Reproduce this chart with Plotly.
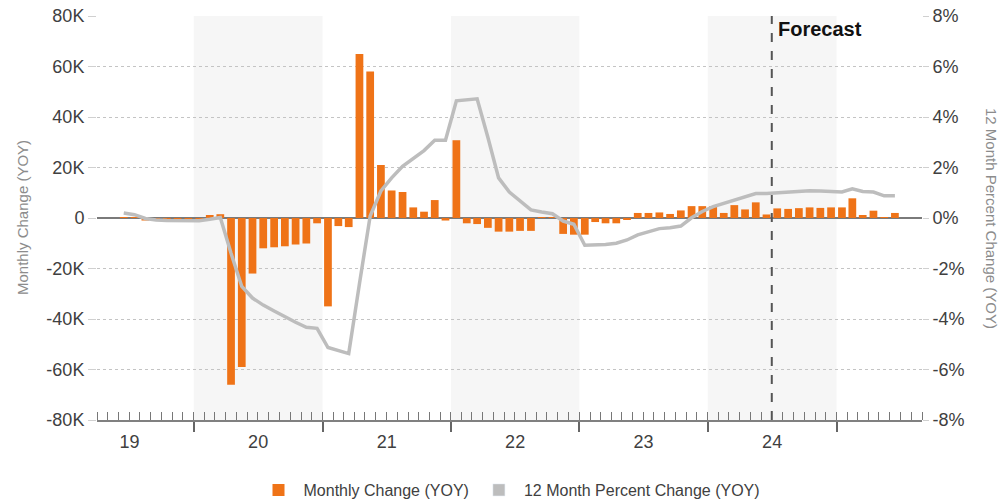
import pandas as pd
import plotly.graph_objects as go

# ---------------- data ----------------
months = pd.date_range("2019-06-01", "2025-06-01", freq="MS").strftime("%Y-%m-%d").tolist()

monthly_change = [
    # 2019 Jun-Dec
    200, 200, -1000, -300, -300, -300, -300,
    # 2020
    -300, 1200, 1500, -66000, -59000, -22000, -12000, -11600, -11200, -10500, -10100, -2100,
    # 2021
    -35000, -3200, -3600, 65000, 58000, 21000, 10900, 10300, 4200, 2500, 7100, -1000,
    # 2022
    30800, -2100, -2400, -3900, -5400, -5400, -5100, -5100, 300, 200, -6300, -6600,
    # 2023
    -6600, -1600, -2100, -2100, -400, 2000, 2000, 2200, 1600, 3000, 4700, 4700,
    # 2024
    4700, 2000, 5100, 3400, 6200, 1400, 3800, 3600, 3900, 4200, 4000, 4200,
    # 2025 Jan-Jun
    4200, 7800, 1200, 2900, 200, 2000,
]

pct_change = [
    # 2019 Jun-Dec
    0.20, 0.13, -0.02, -0.08, -0.10, -0.10, -0.11,
    # 2020
    -0.11, -0.05, 0.02, -1.40, -2.71, -3.17, -3.45, -3.68, -3.92, -4.13, -4.33, -4.37,
    # 2021
    -5.13, -5.25, -5.37, -2.60, 0.08, 1.07, 1.59, 2.05, 2.38, 2.67, 3.08, 3.08,
    # 2022
    4.64, 4.68, 4.72, 3.20, 1.59, 1.03, 0.67, 0.32, 0.24, 0.17, -0.12, -0.25,
    # 2023
    -1.08, -1.07, -1.05, -1.00, -0.87, -0.67, -0.54, -0.42, -0.39, -0.32, 0.01, 0.26,
    # 2024
    0.45, 0.57, 0.71, 0.84, 0.97, 0.97, 1.00, 1.03, 1.07, 1.08, 1.07, 1.05,
    # 2025 Jan-Jun
    1.03, 1.16, 1.05, 1.03, 0.88, 0.88,
]
pct_change = [v / 100 for v in pct_change]

left_tickvals = [80000, 60000, 40000, 20000, 0, -20000, -40000, -60000, -80000]
left_ticktext = ["80K", "60K", "40K", "20K", "0", "-20K", "-40K", "-60K", "-80K"]
right_tickvals = [0.08, 0.06, 0.04, 0.02, 0, -0.02, -0.04, -0.06, -0.08]
right_ticktext = ["8%", "6%", "4%", "2%", "0%", "-2%", "-4%", "-6%", "-8%"]

shaded_years = [2020, 2022, 2024]
forecast_start = "2024-07-01"
x_range = ["2019-04-01", "2025-09-01"]

bar_name = "Monthly Change (YOY)"
line_name = "12 Month Percent Change (YOY)"

# ---------------- styles ----------------
ORANGE = "#EF7317"
GREY_LINE = "#BDBDBD"
TEXT = "#404040"
FONT = "Liberation Sans Narrow, Arial Narrow, Liberation Sans, Arial, sans-serif"
DAY_MS = 86400000
W, H = 1003, 503
ML, MR, MT, MB = 97, 81, 16, 83

fig = go.Figure()

fig.add_trace(go.Bar(
    x=months, y=monthly_change, name=bar_name,
    xperiod="M1", xperiodalignment="middle",
    width=22 * DAY_MS,
    marker=dict(color=ORANGE, line=dict(width=0)),
    yaxis="y",
))

# legend proxy (square swatch) for the line series
fig.add_trace(go.Bar(
    x=[None], y=[None], name=line_name, legendgroup="pct",
    marker=dict(color=GREY_LINE), yaxis="y2",
))

fig.add_trace(go.Scatter(
    x=months, y=pct_change, name=line_name, legendgroup="pct", showlegend=False,
    xperiod="M1", xperiodalignment="middle",
    mode="lines", line=dict(color=GREY_LINE, width=3.5),
    yaxis="y2",
))

shapes = []
for yr in shaded_years:
    shapes.append(dict(
        type="rect", xref="x", yref="paper",
        x0=f"{yr}-01-01", x1=f"{yr + 1}-01-01", y0=0, y1=1,
        fillcolor="#F6F6F6", line=dict(width=0), layer="below",
    ))
shapes.append(dict(
    type="line", xref="x", yref="paper",
    x0=forecast_start, x1=forecast_start, y0=0, y1=1,
    line=dict(color="#555555", width=2, dash="dash"),
))

plot_w = W - ML - MR
plot_h = H - MT - MB

fig.update_layout(
    width=W, height=H,
    margin=dict(l=ML, r=MR, t=MT, b=MB, autoexpand=False),
    paper_bgcolor="white", plot_bgcolor="white",
    barmode="overlay",
    font=dict(family=FONT, size=18, color=TEXT),
    showlegend=True,
    legend=dict(
        orientation="h", x=0.5, xanchor="center",
        y=-(490 - (H - MB)) / plot_h,
        yanchor="middle",
        font=dict(size=16, color=TEXT), itemwidth=40, tracegroupgap=0,
    ),
    shapes=shapes,
    xaxis=dict(
        type="date", range=x_range, automargin=False,
        tickmode="linear", tick0="2020-01-01", dtick="M12",
        ticklabelmode="period", tickformat="%y", labelalias={"25": " "},
        ticks="outside", ticklen=10, tickwidth=2, tickcolor="#666666",
        ticklabelstandoff=-6,
        minor=dict(dtick="M1", tick0="2019-01-01", ticks="inside", ticklen=8,
                   tickwidth=1, tickcolor="#777777", showgrid=False),
        showline=True, linecolor="#808080", linewidth=2,
        showgrid=False, zeroline=False,
        tickfont=dict(size=18, color=TEXT),
    ),
    yaxis=dict(
        range=[-80000, 80000], tickmode="array", automargin=False,
        tickvals=left_tickvals, ticktext=left_ticktext,
        showgrid=True, gridcolor="#C4C4C4", griddash="dot", gridwidth=1,
        zeroline=True, zerolinecolor="#7A7A7A", zerolinewidth=2,
        ticks="outside", ticklen=8, tickcolor="#D0D0D0",
        tickfont=dict(size=18, color=TEXT),
        showline=False,
    ),
    yaxis2=dict(
        range=[-0.08, 0.08], overlaying="y", side="right", automargin=False,
        tickmode="array", tickvals=right_tickvals, ticktext=right_ticktext,
        showgrid=False, zeroline=False,
        ticks="outside", ticklen=6, tickcolor="#D0D0D0",
        tickfont=dict(size=18, color=TEXT),
        showline=False,
    ),
    annotations=[
        dict(text="<b>Forecast</b>", x=forecast_start, xref="x", xanchor="left", xshift=4,
             y=1, yref="paper", yanchor="top", yshift=0, showarrow=False,
             font=dict(family="Liberation Sans, Arial, sans-serif", size=20, color="#111111")),
        dict(text=bar_name, x=(22 - ML) / plot_w, xref="paper", xanchor="center",
             y=0.5, yref="paper", yanchor="middle", textangle=-90, showarrow=False,
             font=dict(size=15, color="#8C8C8C")),
        dict(text=line_name, x=(992 - ML) / plot_w, xref="paper", xanchor="center",
             y=0.5, yref="paper", yanchor="middle", textangle=90, showarrow=False,
             font=dict(size=15, color="#8C8C8C")),
    ],
)

fig.write_html("out.html", config={"displayModeBar": False},
               post_script="document.body.style.margin='0';")
